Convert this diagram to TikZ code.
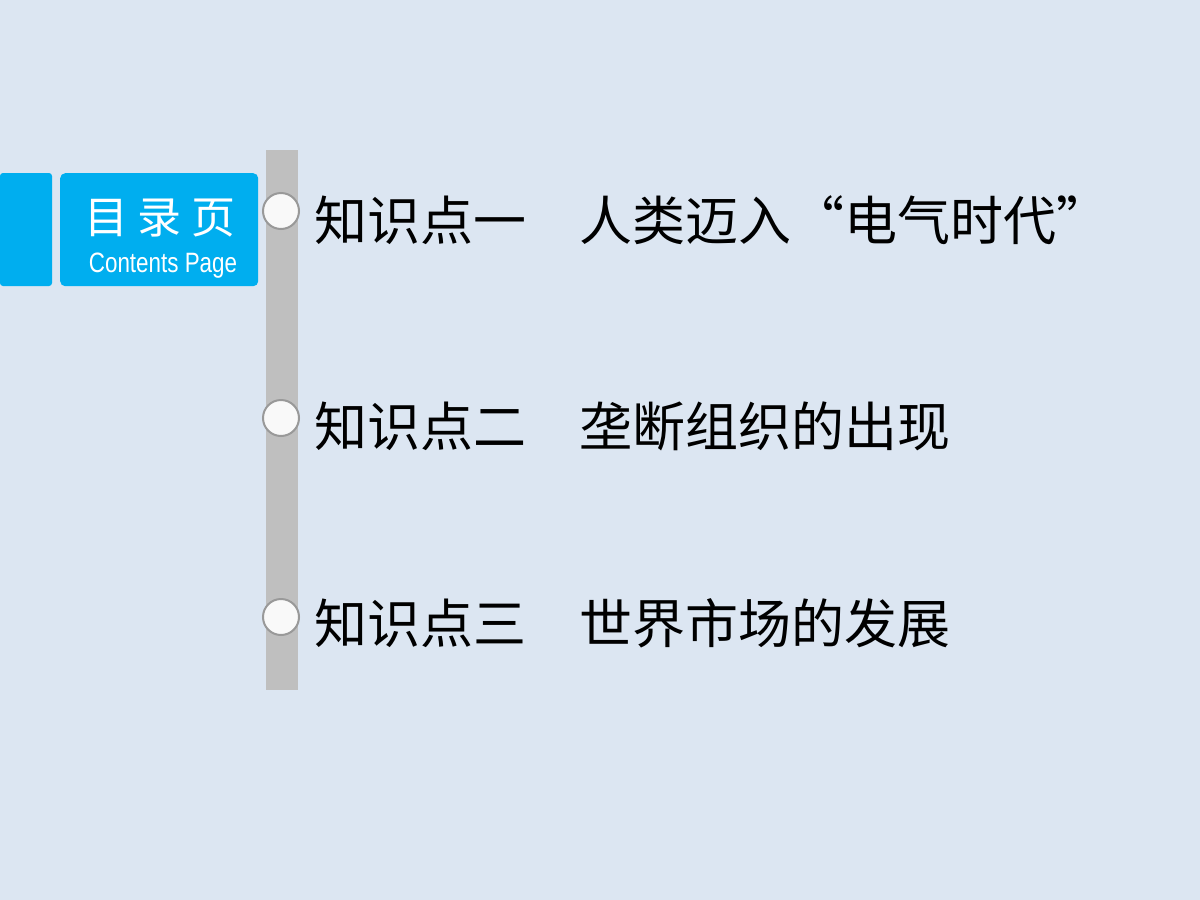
\documentclass[tikz,border=0pt]{standalone}
\usepackage{fontspec}
\newfontfamily\cjk{Noto Sans CJK SC}
\setsansfont{Liberation Sans}
\definecolor{bg}{HTML}{DCE6F2}
\definecolor{cyanb}{HTML}{00AEEF}
\definecolor{barg}{HTML}{BFBFBF}
\begin{document}
\begin{tikzpicture}[x=1pt,y=-1pt,
  item/.style={anchor=west,font=\cjk\fontsize{53}{56}\selectfont,inner sep=0pt},
  dot/.style={circle,minimum size=36pt,inner sep=0pt,fill=white!90!barg,draw=barg!80!black,line width=2pt}]
\fill[bg] (0,0) rectangle (1200,900);
\useasboundingbox (0,0) rectangle (1200,900);
\fill[cyanb,rounded corners=3pt] (0,173) rectangle (52,286);
\node[fill=cyanb,rounded corners=5pt,minimum width=198pt,minimum height=113pt,anchor=north west,inner sep=0pt] (box) at (60,173) {};
\node[text=white,font=\cjk\fontsize{44}{48}\selectfont,inner sep=0pt] (t1) at (160,218) {目\hspace{10pt}录\hspace{10pt}页};
\node[text=white,font=\sffamily\fontsize{28}{30}\selectfont,inner sep=0pt,xscale=0.8] (t2) at (163,266) {Contents Page};
\fill[barg] (266,150) rectangle (298,690);
\node[dot] (c1) at (281,211) {};
\node[dot] (c2) at (281,418) {};
\node[dot] (c3) at (281,617) {};
\node[item] (l1) at (314,220) {知识点一　人类迈入“电气时代”};
\node[item] (l2) at (314,426) {知识点二　垄断组织的出现};
\node[item] (l3) at (314,623) {知识点三　世界市场的发展};
\end{tikzpicture}
\end{document}
